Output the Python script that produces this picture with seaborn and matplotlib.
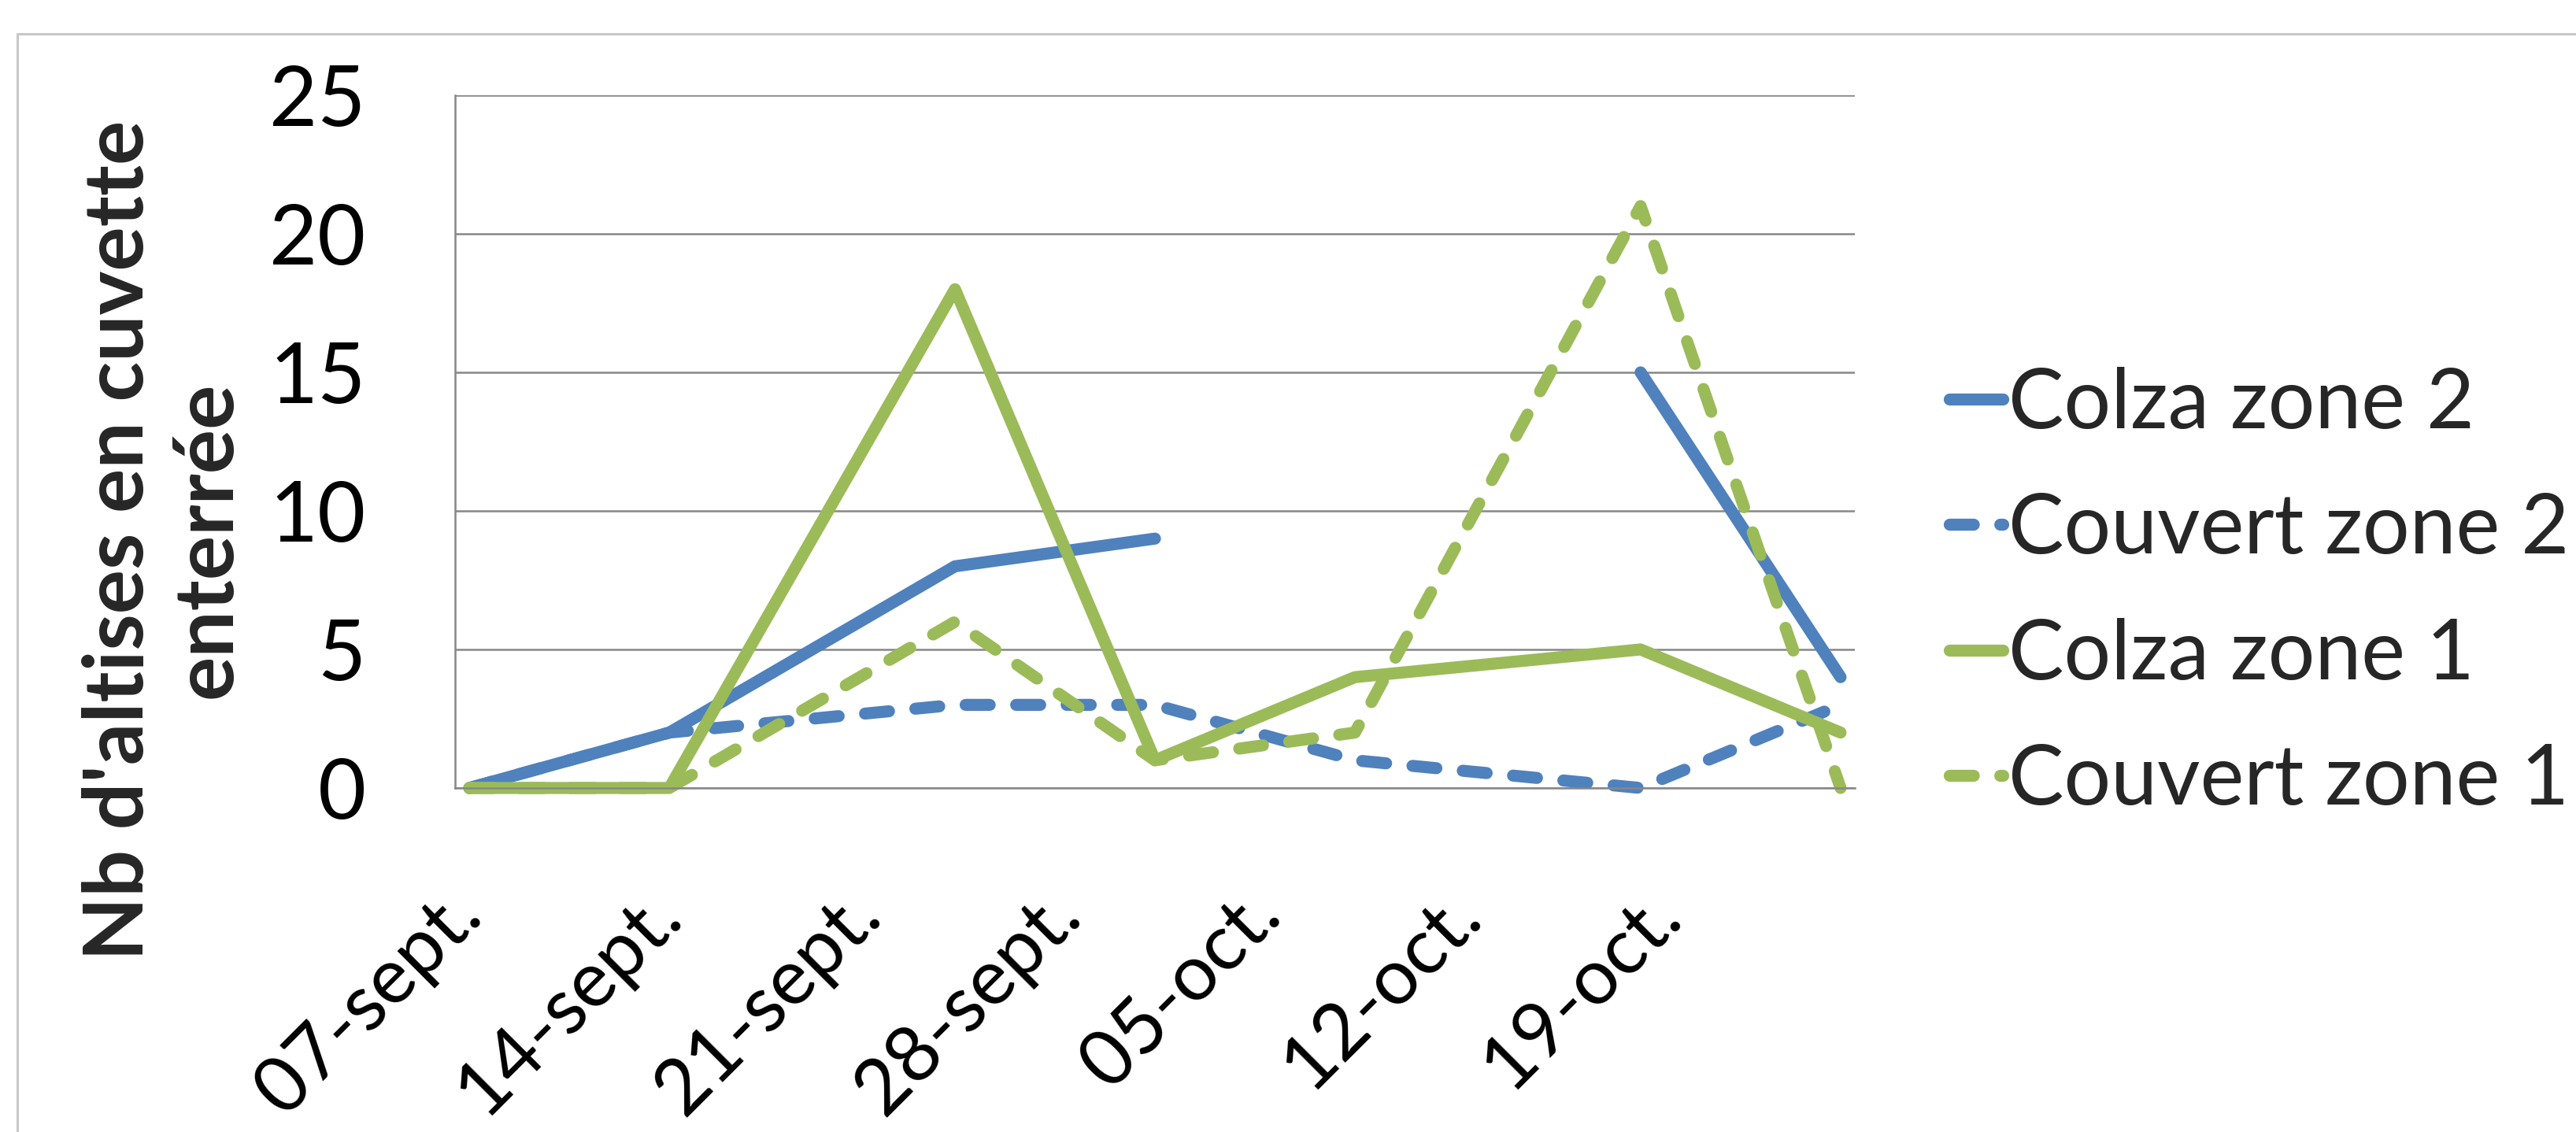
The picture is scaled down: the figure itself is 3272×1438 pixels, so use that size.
import numpy as np
import pandas as pd
import matplotlib.pyplot as plt
import matplotlib.transforms as mtransforms
from matplotlib.lines import Line2D
import seaborn as sns

# sampling dates and counts
dates = ["2013-09-07", "2013-09-14", "2013-09-24", "2013-10-01",
         "2013-10-08", "2013-10-18", "2013-10-25"]
colza_zone2 = [0, 2, 8, 9, np.nan, 15, 4]
couvert_zone2 = [0, 2, 3, 3, 1, 0, 3]
colza_zone1 = [0, 0, 18, 1, 4, 5, 2]
couvert_zone1 = [0, 0, 6, 1, 2, 21, 0]

series_names = ["Colza zone 2", "Couvert zone 2", "Colza zone 1", "Couvert zone 1"]
tick_labels = ["07-sept.", "14-sept.", "21-sept.", "28-sept.",
               "05-oct.", "12-oct.", "19-oct.", ""]
y_ticks = [0, 5, 10, 15, 20, 25]
y_label = "Nb d'altises en cuvette\nenterrée"

sns.set_style("white")
plt.rcParams["font.family"] = ["Lato", "DejaVu Sans"]

blue = "#4F81BD"
green = "#9BBB59"
grid_gray = "#878787"
fs = 76
lw = 11

W, H = 3273, 1438
fig = plt.figure(figsize=(W / 100, H / 100), dpi=100)
ax = fig.add_axes([578 / W, 1 - 1001 / H, 1778 / W, 880 / H])

df = pd.DataFrame({"date": pd.to_datetime(dates)})
all_values = [colza_zone2, couvert_zone2, colza_zone1, couvert_zone1]
colors = [blue, blue, green, green]
dashed = [False, True, False, True]

for name, vals, col, dash in zip(series_names, all_values, colors, dashed):
    d = df.copy()
    d["n"] = vals
    # a missing value breaks the line, so draw each unbroken run on its own
    d["seg"] = d["n"].isna().cumsum()
    d = d.dropna()
    first = True
    for seg, part in d.groupby("seg"):
        ls = (0, (2.0, 2.2)) if dash else "-"
        sns.lineplot(data=part, x="date", y="n", ax=ax, color=col, linewidth=lw,
                     linestyle=ls, errorbar=None,
                     solid_capstyle="round", dash_capstyle="round",
                     solid_joinstyle="round", dash_joinstyle="round",
                     clip_on=False, label=name if first else "_nolegend_")
        first = False

# date axis, Excel style: points sit between tick marks
start = pd.Timestamp(dates[0]) - pd.Timedelta(hours=12)
ticks = pd.date_range(start, periods=len(tick_labels), freq="7D")
ax.set_xlim(ticks[0], ticks[-1])
ax.set_xticks(ticks)
ax.set_ylim(0, 25)
ax.set_yticks(y_ticks)
ax.set_xlabel("")
ax.set_ylabel("")

ax.grid(axis="y", color=grid_gray, linewidth=1.8)
ax.grid(axis="x", visible=False)
for side in ["top", "right"]:
    ax.spines[side].set_visible(False)
for side in ["left", "bottom"]:
    ax.spines[side].set_color(grid_gray)
    ax.spines[side].set_linewidth(1.8)
ax.tick_params(axis="both", direction="out", length=26.6, width=1.8,
               color=grid_gray, labelsize=fs, labelcolor="black")
ax.tick_params(axis="y", pad=55)
ax.tick_params(axis="x", pad=92, labelsize=71)

# tick_params resets label transforms, so shift the rotated labels afterwards
ax.set_xticklabels(tick_labels, rotation=45, ha="right", va="baseline",
                   rotation_mode="anchor")
offset = mtransforms.ScaledTranslation(0.37, 0, fig.dpi_scale_trans)
for lab in ax.get_xticklabels():
    lab.set_transform(lab.get_transform() + offset)

fig.text(208 / W, 1 - 686 / H, y_label, rotation=90, ha="center", va="center",
         fontsize=fs, fontweight="bold", multialignment="center", linespacing=1.2)

ax.legend(loc="center left", bbox_to_anchor=(2476 / W, 1 - 753 / H),
          bbox_transform=fig.transFigure, frameon=False, fontsize=fs,
          handlelength=0.64, handletextpad=0.07, labelspacing=0.6,
          borderpad=0, borderaxespad=0)

# chart area border (top and left edges visible)
fig.add_artist(Line2D([22 / W, 22 / W], [0, 1 - 43 / H], transform=fig.transFigure,
                      color="#c8c8c8", linewidth=2.2))
fig.add_artist(Line2D([22 / W, 1], [1 - 43 / H, 1 - 43 / H], transform=fig.transFigure,
                      color="#c8c8c8", linewidth=2.2))

fig.savefig("out.png", dpi=100)
plt.close()
